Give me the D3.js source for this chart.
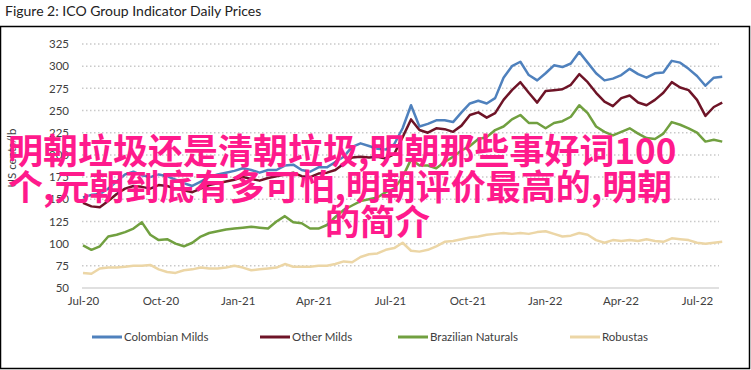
<!DOCTYPE html>
<html>
<head>
<meta charset="utf-8">
<script src="https://cdn.jsdelivr.net/npm/d3@7"></script>
<style>
  body { margin: 0; background: #fff; }
  svg { display: block; }
</style>
</head>
<body>
<svg width="751" height="370"></svg>
<script>
// DATA (US cents/lb, one reading every 10 days from 1 Jul 2020)

var seriesNames = ["Colombian Milds", "Other Milds", "Brazilian Naturals", "Robustas"];
var seriesColors = ["#4f81bd", "#6e1427", "#71a040", "#ecd6a6"];

var colombianMilds = [152, 155, 156, 162, 170, 178, 181, 177, 175, 178, 176, 172, 168, 165, 170, 175,
  178, 180, 182, 185, 183, 180, 183, 183, 188, 189, 183, 181, 186, 186, 192, 198, 209, 213, 210, 207,
  206, 212, 230, 256, 232, 235, 239, 239, 237, 248, 258, 261, 258, 264, 287, 300, 305, 290, 284, 292,
  301, 299, 303, 316, 304, 292, 284, 286, 290, 297, 291, 287, 292, 293, 306, 304, 297, 289, 278, 287, 288];

var otherMilds = [146, 142, 141, 148, 156, 162, 165, 164, 162, 166, 165, 162, 160, 158, 162, 166,
  168, 170, 172, 175, 173, 171, 174, 176, 178, 180, 176, 175, 179, 180, 183, 190, 197, 198, 197, 198,
  196, 201, 220, 240, 228, 225, 230, 229, 226, 233, 245, 248, 242, 247, 262, 273, 282, 270, 259, 272,
  273, 274, 279, 291, 282, 270, 260, 255, 264, 267, 259, 256, 262, 270, 282, 276, 273, 262, 244, 254, 259];

var brazilianNaturals = [98, 93, 97, 108, 110, 113, 117, 124, 110, 104, 105, 100, 97, 101, 108, 112,
  114, 116, 117, 118, 119, 118, 117, 125, 131, 124, 123, 117, 117, 121, 130, 138, 143, 148, 150, 152,
  158, 162, 175, 195, 188, 188, 185, 192, 198, 205, 210, 218, 220, 228, 232, 240, 245, 236, 236, 230,
  236, 238, 243, 256, 247, 232, 226, 222, 226, 230, 224, 219, 218, 224, 237, 234, 230, 225, 215, 217, 215];

var robustas = [67, 66, 72, 73, 73, 74, 75, 75, 76, 71, 68, 67, 70, 71, 73, 72,
  72, 73, 75, 73, 70, 71, 72, 73, 77, 74, 74, 74, 75, 75, 77, 80, 79, 85, 88, 89,
  93, 95, 101, 92, 91, 93, 97, 102, 103, 105, 107, 108, 110, 111, 112, 111, 112, 111, 113, 114,
  111, 108, 109, 112, 110, 104, 101, 104, 103, 104, 103, 105, 103, 102, 106, 105, 104, 101, 100, 101, 102];

var yTicks = [50, 75, 100, 125, 150, 175, 200, 225, 250, 275, 300, 325];
var xTicks = ["2020-07-01", "2020-10-01", "2021-01-01", "2021-04-01", "2021-07-01",
  "2021-10-01", "2022-01-01", "2022-04-01", "2022-07-01"];

var overlayLines = ["明朝垃圾还是清朝垃圾,明朝那些事好词100", "个,元朝到底有多可怕,明朝评价最高的,明朝", "的简介"];

// dates for the readings
var startDate = new Date(2020, 6, 1);
var dates = colombianMilds.map(function(d, i) { return d3.timeDay.offset(startDate, i * 10); });
var allSeries = [colombianMilds, otherMilds, brazilianNaturals, robustas];

// VIEW

var svg = d3.select("svg"),
    width = +svg.attr("width"),
    height = +svg.attr("height"),
    tickFont = "Lato, 'Open Sans', sans-serif";

// frame + title
svg.append("rect")
    .attr("x", 0.5).attr("y", 26.5)
    .attr("width", 749).attr("height", 342)
    .attr("fill", "none").attr("stroke", "#000").attr("stroke-width", 1.5);

svg.append("text")
    .attr("x", 5).attr("y", 16)
    .attr("font-family", tickFont)
    .attr("font-size", "14px")
    .attr("fill", "#222")
    .text("Figure 2: ICO Group Indicator Daily Prices");

var x = d3.scaleTime()
    .domain([new Date(2020, 6, 1), new Date(2022, 6, 1)])
    .range([83, 697]);

var y = d3.scaleLinear()
    .domain([50, 325])
    .range([288, 44]);

var plotLeft = 82, plotRight = 719;

// gridlines
svg.append("g").selectAll("line")
    .data(yTicks.slice(1))
  .enter().append("line")
    .attr("x1", plotLeft).attr("x2", plotRight)
    .attr("y1", function(d) { return y(d); })
    .attr("y2", function(d) { return y(d); })
    .attr("stroke", "#c9c9c9")
    .attr("stroke-width", 1.5)
    .attr("stroke-dasharray", "1.5,2.5");

// x axis baseline
svg.append("line")
    .attr("x1", plotLeft).attr("x2", plotRight)
    .attr("y1", y(50)).attr("y2", y(50))
    .attr("stroke", "#d6d6d6").attr("stroke-width", 1.5);

// y axis labels
var yAxis = svg.append("g")
    .attr("transform", "translate(69,0)")
    .call(d3.axisLeft(y).tickValues(yTicks).tickSize(0).tickPadding(0));
yAxis.select(".domain").remove();
yAxis.selectAll("text")
    .attr("font-family", tickFont)
    .attr("font-size", "11.5px")
    .attr("fill", "#404040");

// x axis labels
var xAxis = svg.append("g")
    .attr("transform", "translate(0,297)")
    .call(d3.axisBottom(x)
      .tickValues(xTicks.map(function(d) { return d3.timeParse("%Y-%m-%d")(d); }))
      .tickFormat(d3.timeFormat("%b-%y"))
      .tickSize(0).tickPadding(0));
xAxis.select(".domain").remove();
xAxis.selectAll("text")
    .attr("font-family", tickFont)
    .attr("font-size", "11.5px")
    .attr("fill", "#404040");

// y axis title
svg.append("text")
    .attr("transform", "translate(16,158) rotate(-90)")
    .attr("text-anchor", "middle")
    .attr("font-family", tickFont)
    .attr("font-size", "11.5px")
    .attr("fill", "#404040")
    .text("US cents/lb");

// lines
var line = d3.line()
    .x(function(d, i) { return x(dates[i]); })
    .y(function(d) { return y(d); })
    .curve(d3.curveLinear);

svg.append("g").selectAll("path")
    .data(allSeries)
  .enter().append("path")
    .attr("d", line)
    .attr("fill", "none")
    .attr("stroke", function(d, i) { return seriesColors[i]; })
    .attr("stroke-width", 2.5)
    .attr("stroke-linejoin", "round");

// legend
var legendX = [92, 260, 398, 570];
var legend = svg.append("g").selectAll("g")
    .data(seriesNames)
  .enter().append("g")
    .attr("transform", function(d, i) { return "translate(" + legendX[i] + ",337)"; });

legend.append("line")
    .attr("x1", 0).attr("x2", 30)
    .attr("stroke", function(d, i) { return seriesColors[i]; })
    .attr("stroke-width", 3);

legend.append("text")
    .attr("x", 32).attr("y", 4)
    .attr("font-family", tickFont)
    .attr("font-size", "11.5px")
    .attr("fill", "#404040")
    .text(function(d) { return d; });

// pink overlay text
var overlayX = [8, 8, 325];
var overlayY = [164, 199.5, 235];
svg.append("g").selectAll("text")
    .data(overlayLines)
  .enter().append("text")
    .attr("x", function(d, i) { return overlayX[i]; })
    .attr("y", function(d, i) { return overlayY[i]; })
    .attr("font-family", "'Noto Sans CJK SC', sans-serif")
    .attr("font-weight", 700)
    .attr("font-size", "35px")
    .attr("fill", "#ff1a8c")
    .text(function(d) { return d; });
</script>
</body>
</html>
